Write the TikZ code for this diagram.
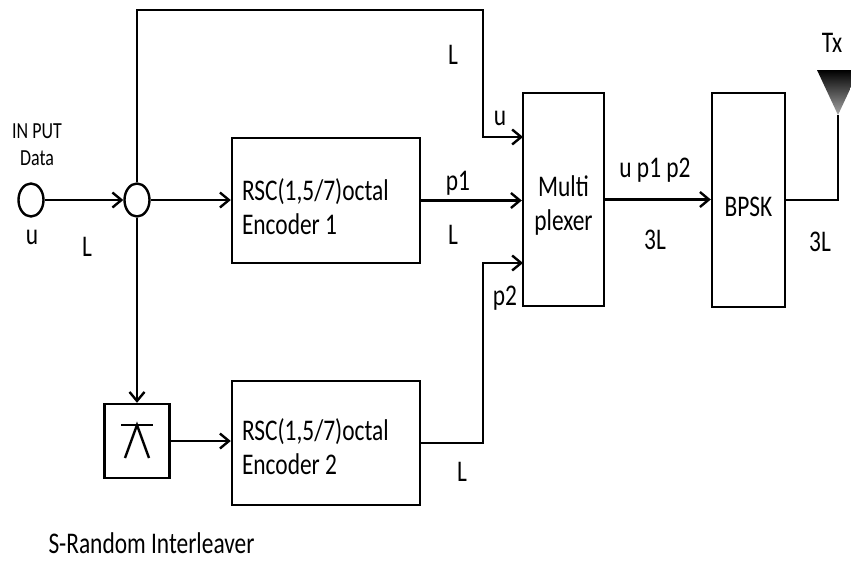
\documentclass[tikz,border=0pt]{standalone}
\usepackage{fontspec}
\setmainfont{Carlito}[FakeStretch=0.78]
\usetikzlibrary{arrows.meta}
\usetikzlibrary{shapes.geometric}
\tikzset{>={Straight Barb[length=9pt, width=15pt]}}

\begin{document}
\begin{tikzpicture}[x=1pt, y=-1pt, line width=2.4pt,
    txt/.style={font=\fontsize{30}{34}\selectfont, inner sep=0pt},
    blk/.style={draw, rectangle, inner sep=0pt},
    port/.style={draw, ellipse, minimum width=25pt, minimum height=33pt, inner sep=0pt}]
      \useasboundingbox (0,0) rectangle (851,562);
      \node[port] (in) at (31,200) {};
      \node[port] (jn) at (137,200) {};
      \node[blk, minimum width=188pt, minimum height=125pt] (enc1) at (326,200.5) {};
      \node[blk, minimum width=188pt, minimum height=124pt] (enc2) at (326,443) {};
      \node[blk, minimum width=65pt, minimum height=74pt] (il) at (137,441) {};
      \node[blk, minimum width=81pt, minimum height=213pt] (mux) at (563.5,199.5) {};
      \node[blk, minimum width=73pt, minimum height=214pt] (bpsk) at (748.5,200) {};
      % texts
      \node[txt, align=left, anchor=west] (enc1lbl) at ([xshift=10pt, yshift=-6pt]enc1.west) {RSC(1,5/7)octal\\Encoder 1};
      \node[txt, align=left, anchor=west] (enc2lbl) at ([xshift=10pt, yshift=-4pt]enc2.west) {RSC(1,5/7)octal\\Encoder 2};
      \node[txt, align=center] (muxlbl) at ([yshift=-6pt]mux.center) {Multi\\plexer};
      \node[txt] (bpsklbl) at ([yshift=-7pt]bpsk.center) {BPSK};
      \node[txt, font=\fontsize{23}{27}\selectfont, align=center] (inlbl) at (37,144.5) {IN PUT\\Data};
      \node[txt] (uin) at (32,237) {u};
      \node[txt] (lin) at (87,247) {L};
      \node[txt] (ltop) at (453,55) {L};
      \node[txt] (umux) at (500,118) {u};
      \node[txt] (p1) at (458,183) {p1};
      \node[txt] (l1) at (453,235) {L};
      \node[txt] (p2) at (505,298) {p2};
      \node[txt] (ump) at (655,170) {u p1 p2};
      \node[txt] (l3a) at (655,240) {3L};
      \node[txt] (l3b) at (820,242) {3L};
      \node[txt] (tx) at (832,43) {Tx};
      \node[txt] (l2) at (462,472) {L};
      \node[txt] (sri) at (151.5,543) {S-Random Interleaver};
      % bends and ends
      \coordinate (top) at (483,10);
      \coordinate (mu) at (523,137);
      \coordinate (bend) at (483,263);
      \coordinate (mp2) at (523,263);
      \coordinate (ant) at (838,115);
      % connectors
      \draw[->] (in) -- (jn);
      \draw[->] (jn) -- (jn -| enc1.west);
      \draw[->] (jn) |- (top) |- (mu);
      \draw[->] (jn) -- (jn |- il.north);
      \draw[->] (il) -- (il -| enc2.west);
      \draw[->] (enc1) -- (enc1 -| mux.west);
      \draw[->] (enc2) -| (bend) -- (mp2);
      \draw[->] (mux) -- (mux -| bpsk.west);
      \draw (bpsk) -| (ant);
      % antenna and interleaver sign
      \shade[top color=black, bottom color=gray!70] (817,70) -- (859,70) -- (ant) -- cycle;
      \draw ([shift={(-16,-16)}]il.center) -- ([shift={(16,-16)}]il.center);
      \draw ([shift={(-12,17)}]il.center) -- ([shift={(0,-16)}]il.center) -- ([shift={(12,17)}]il.center);
    \end{tikzpicture}
\end{document}
